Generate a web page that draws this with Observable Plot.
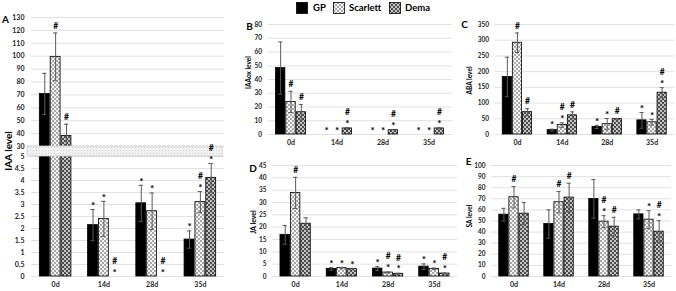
<!DOCTYPE html>
<html><head><meta charset="utf-8">
<script src="https://cdn.jsdelivr.net/npm/d3@7"></script>
<script src="https://cdn.jsdelivr.net/npm/@observablehq/plot@0.6"></script>
<style>
body{margin:0;background:#fff}
#root{position:relative;width:676px;height:291px;overflow:hidden;font-family:Lato,"Open Sans",sans-serif}
.layer{position:absolute;left:0;top:0}
.leg{position:absolute;font:bold 9.5px Lato,sans-serif;color:#000;line-height:12px}
</style></head><body>
<svg width="0" height="0" style="position:absolute">
<defs>
<pattern id="pSc" patternUnits="userSpaceOnUse" width="4" height="4">
<rect width="4" height="4" fill="#f4f4f4"/><rect width="2" height="2" fill="#a9a9a9"/><rect x="2" y="2" width="2" height="2" fill="#a9a9a9"/>
</pattern>
<pattern id="pDe" patternUnits="userSpaceOnUse" width="4" height="4">
<rect width="4" height="4" fill="#c4c4c4"/><rect width="2" height="2" fill="#4d4d4d"/><rect x="2" y="2" width="2" height="2" fill="#4d4d4d"/>
</pattern>
<pattern id="pBand" patternUnits="userSpaceOnUse" width="3" height="3">
<rect width="3" height="3" fill="#f1f1f1"/><rect width="1" height="1" fill="#d4d4d4"/>
</pattern>
</defs></svg>
<div id="root"></div>
<script>
const days = ["0d","14d","28d","35d"];
const cultivars = ["GP","Scarlett","Dema"];

// Panel A: IAA (broken axis)
const iaaGP = [70.7, 2.14, 3.05, 1.54];
const iaaScarlett = [99.5, 2.40, 2.72, 3.10];
const iaaDema = [38.1, 0, 0, 4.11];
const iaaErrGP = [16, 0.65, 0.75, 0.36];
const iaaErrScarlett = [18.5, 0.73, 0.76, 0.44];
const iaaErrDema = [9.2, 0, 0, 0.6];
const iaaMarkGP = ["", "*", "*", "*"];
const iaaMarkScarlett = ["#", "*", "*", "*#"];
const iaaMarkDema = ["#", "*#", "*#", "*#"];
const iaaTicks = [0,0.5,1,1.5,2,2.5,3,3.5,4,4.5,5,30,40,50,60,70,80,90,100,110,120,130];

// Panel B: IAAox
const oxGP = [48.3, 0, 0, 0];
const oxScarlett = [23.7, 0, 0, 0];
const oxDema = [16.2, 4.4, 3.1, 4.4];
const oxErrGP = [19, 0, 0, 0];
const oxErrScarlett = [7.7, 0, 0, 0];
const oxErrDema = [5.6, 0.6, 0, 0.4];
const oxMarkGP = ["", "*", "*", "*"];
const oxMarkScarlett = ["#", "*", "*", "*"];
const oxMarkDema = ["#", "*#", "*#", "*#"];
const oxTicks = [0,10,20,30,40,50,60,70,80];

// Panel C: ABA
const abaGP = [183, 14, 24, 45];
const abaScarlett = [292, 30, 33, 39];
const abaDema = [71, 61, 49, 133];
const abaErrGP = [63, 3, 5, 25];
const abaErrScarlett = [31, 7, 18, 9];
const abaErrDema = [11, 11, 2, 16];
const abaMarkGP = ["", "*", "*", "*"];
const abaMarkScarlett = ["#", "*#", "*", "*"];
const abaMarkDema = ["#", "#", "#", "*#"];
const abaTicks = [0,50,100,150,200,250,300,350];

// Panel D: JA
const jaGP = [16.9, 3.1, 3.2, 4.0];
const jaScarlett = [33.9, 3.4, 1.6, 3.1];
const jaDema = [21.4, 3.0, 1.1, 1.2];
const jaErrGP = [3.8, 0.5, 0.8, 1.1];
const jaErrScarlett = [6.3, 0.3, 0.2, 0.3];
const jaErrDema = [2.4, 0.3, 0.2, 0.2];
const jaMarkGP = ["", "*", "*", "*"];
const jaMarkScarlett = ["#", "*", "*#", "*"];
const jaMarkDema = ["", "*", "*#", "*#"];
const jaTicks = [0,5,10,15,20,25,30,35,40,45];

// Panel E: SA
const saGP = [55.7, 47.3, 69.9, 56.0];
const saScarlett = [71.4, 66.9, 49.4, 51.2];
const saDema = [56.6, 71.1, 44.9, 40.4];
const saErrGP = [5.7, 12.7, 17.4, 4.0];
const saErrScarlett = [9.6, 9.6, 5.4, 8.1];
const saErrDema = [10, 12.9, 8.4, 9.9];
const saMarkGP = ["", "", "", ""];
const saMarkScarlett = ["#", "#", "*#", "*"];
const saMarkDema = ["", "#", "#", "*#"];
const saTicks = [0,10,20,30,40,50,60,70,80,90,100];

const FILLS = ["#000", "url(#pSc)", "url(#pDe)"];
const OFF = 0.225, BW = 0.205, CAP = 0.045;
const W = 676, H = 291;
const root = document.getElementById("root");

function panel(cfg) {
  const rows = [];
  cfg.series.forEach((s, j) => s.vals.forEach((v, i) =>
    rows.push({i, j, v, e: s.errs[i], m: s.marks[i]})));
  const px = r => r.i + (r.j - 1) * OFF;
  const marks = [];
  marks.push(Plot.ruleY(cfg.ticks, {y: d => d, stroke: "#d9d9d9", strokeWidth: 0.8}));
  cultivars.forEach((c, j) => {
    marks.push(Plot.rectY(rows.filter(r => r.j === j && r.v > 0), {
      x1: r => px(r) - BW / 2, x2: r => px(r) + BW / 2, y1: 0, y2: "v",
      fill: FILLS[j], stroke: "#000", strokeWidth: 0.8
    }));
  });
  const eb = rows.filter(r => r.e > 0);
  const ebStyle = {stroke: "#5a5a5a", strokeWidth: 1};
  marks.push(Plot.ruleX(eb, {x: px, y1: r => Math.max(0, r.v - r.e), y2: r => r.v + r.e, ...ebStyle}));
  marks.push(Plot.ruleY(eb, {y: r => r.v + r.e, x1: r => px(r) - CAP, x2: r => px(r) + CAP, ...ebStyle}));
  marks.push(Plot.ruleY(eb.filter(r => r.v - r.e > 0), {y: r => r.v - r.e, x1: r => px(r) - CAP, x2: r => px(r) + CAP, ...ebStyle}));
  if (cfg.band) {
    marks.push(Plot.rect([cfg.band], {x1: -0.58, x2: 3.46, y1: d => d[0], y2: d => d[1],
      fill: "url(#pBand)", stroke: "#c8c8c8", strokeWidth: 0.8}));
  }
  const tstyle = {fontSize: 8.5, fontWeight: "bold", fill: "#000", fontFamily: "Lato"};
  // lower marker: asterisks sit high in the glyph box, so they are nudged down
  const first = rows.filter(r => r.m.length > 0);
  marks.push(Plot.text(first.filter(r => r.m[0] === "*"), {x: px, y: r => r.v + r.e, text: r => r.m[0], dy: -4, ...tstyle, fontSize: 10}));
  marks.push(Plot.text(first.filter(r => r.m[0] !== "*"), {x: px, y: r => r.v + r.e, text: r => r.m[0], dy: -7, ...tstyle}));
  marks.push(Plot.text(rows.filter(r => r.m.length > 1), {x: px, y: r => r.v + r.e, text: r => r.m[1], dy: -15.5, ...tstyle}));
  marks.push(Plot.axisY({ticks: cfg.ticks, tickSize: 0, tickPadding: cfg.tickPad ?? 6, tickFormat: d => String(d),
    label: null, fontSize: cfg.tickFont ?? 6.5, fontWeight: "bold", fill: "#262626"}));
  marks.push(Plot.axisX({ticks: [0,1,2,3], tickFormat: i => days[i], tickSize: 0, tickPadding: 6,
    label: null, fontSize: 7, fontWeight: "bold", fill: "#262626"}));
  marks.push(Plot.text([cfg.title], {frameAnchor: "left", dx: cfg.titleDx, dy: cfg.titleDy, rotate: -90,
    fontSize: cfg.titleFont, fontWeight: "bold", fill: "#000", textAnchor: "middle"}));
  marks.push(Plot.text([cfg.letter], {frameAnchor: "top-left", dx: cfg.letterDx, dy: cfg.letterDy,
    fontSize: 10, fontWeight: "bold", fill: "#000", textAnchor: "middle"}));
  const y = cfg.yRange ? {type: "linear", domain: cfg.yDomain, range: cfg.yRange, label: null}
                       : {domain: cfg.yDomain, label: null};
  const svg = Plot.plot({
    width: W, height: H,
    marginLeft: cfg.left, marginRight: W - cfg.right, marginTop: cfg.top, marginBottom: H - cfg.bottom,
    x: {type: "linear", domain: [-0.5, 3.5], label: null},
    y,
    style: {background: "transparent", overflow: "visible", fontFamily: "Lato, sans-serif", color: "#000"},
    marks
  });
  const div = document.createElement("div");
  div.className = "layer";
  div.appendChild(svg);
  root.appendChild(div);
}

panel({
  series: [
    {vals: iaaGP, errs: iaaErrGP, marks: iaaMarkGP},
    {vals: iaaScarlett, errs: iaaErrScarlett, marks: iaaMarkScarlett},
    {vals: iaaDema, errs: iaaErrDema, marks: iaaMarkDema}],
  ticks: iaaTicks, yDomain: [0, 5, 30, 130], yRange: [276, 156, 146, 17], band: [5, 30],
  left: 31, right: 224, top: 17, bottom: 276, tickFont: 7, tickPad: 7,
  title: "IAA level", titleDx: -23, titleDy: 4, titleFont: 10,
  letter: "A", letterDx: -26, letterDy: -2
});
panel({
  series: [
    {vals: oxGP, errs: oxErrGP, marks: oxMarkGP},
    {vals: oxScarlett, errs: oxErrScarlett, marks: oxMarkScarlett},
    {vals: oxDema, errs: oxErrDema, marks: oxMarkDema}],
  ticks: oxTicks, yDomain: [0, 80],
  left: 267.5, right: 451.5, top: 24, bottom: 134,
  title: "IAAox level", titleDx: -19, titleDy: -7, titleFont: 6.5,
  letter: "B", letterDx: -18.5, letterDy: -2
});
panel({
  series: [
    {vals: abaGP, errs: abaErrGP, marks: abaMarkGP},
    {vals: abaScarlett, errs: abaErrScarlett, marks: abaMarkScarlett},
    {vals: abaDema, errs: abaErrDema, marks: abaMarkDema}],
  ticks: abaTicks, yDomain: [0, 350],
  left: 494.5, right: 674, top: 24, bottom: 134,
  title: "ABA level", titleDx: -25, titleDy: 1, titleFont: 6.5,
  letter: "C", letterDx: -30.5, letterDy: -4
});
panel({
  series: [
    {vals: jaGP, errs: jaErrGP, marks: jaMarkGP},
    {vals: jaScarlett, errs: jaErrScarlett, marks: jaMarkScarlett},
    {vals: jaDema, errs: jaErrDema, marks: jaMarkDema}],
  ticks: jaTicks, yDomain: [0, 45],
  left: 272, right: 457, top: 165, bottom: 276,
  title: "JA level", titleDx: -19, titleDy: 1, titleFont: 7,
  letter: "D", letterDx: -19.5, letterDy: -1
});
panel({
  series: [
    {vals: saGP, errs: saErrGP, marks: saMarkGP},
    {vals: saScarlett, errs: saErrScarlett, marks: saMarkScarlett},
    {vals: saDema, errs: saErrDema, marks: saMarkDema}],
  ticks: saTicks, yDomain: [0, 100],
  left: 491, right: 671, top: 165, bottom: 276,
  title: "SA level", titleDx: -22, titleDy: -5, titleFont: 6.5,
  letter: "E", letterDx: -23, letterDy: -8
});

// Legend
const legPos = [[296, 313], [333, 349], [389, 405]];
cultivars.forEach((c, j) => {
  const sw = document.createElementNS("http://www.w3.org/2000/svg", "svg");
  sw.setAttribute("width", 12); sw.setAttribute("height", 12);
  sw.style.position = "absolute"; sw.style.left = legPos[j][0] + "px"; sw.style.top = "2px";
  const r = document.createElementNS("http://www.w3.org/2000/svg", "rect");
  r.setAttribute("x", 0.5); r.setAttribute("y", 0.5); r.setAttribute("width", 11); r.setAttribute("height", 11);
  r.setAttribute("fill", FILLS[j]); r.setAttribute("stroke", "#000"); r.setAttribute("stroke-width", 0.8);
  sw.appendChild(r);
  root.appendChild(sw);
  const t = document.createElement("div");
  t.className = "leg"; t.textContent = c;
  t.style.left = legPos[j][1] + "px"; t.style.top = "2px";
  root.appendChild(t);
});
</script>
</body></html>
